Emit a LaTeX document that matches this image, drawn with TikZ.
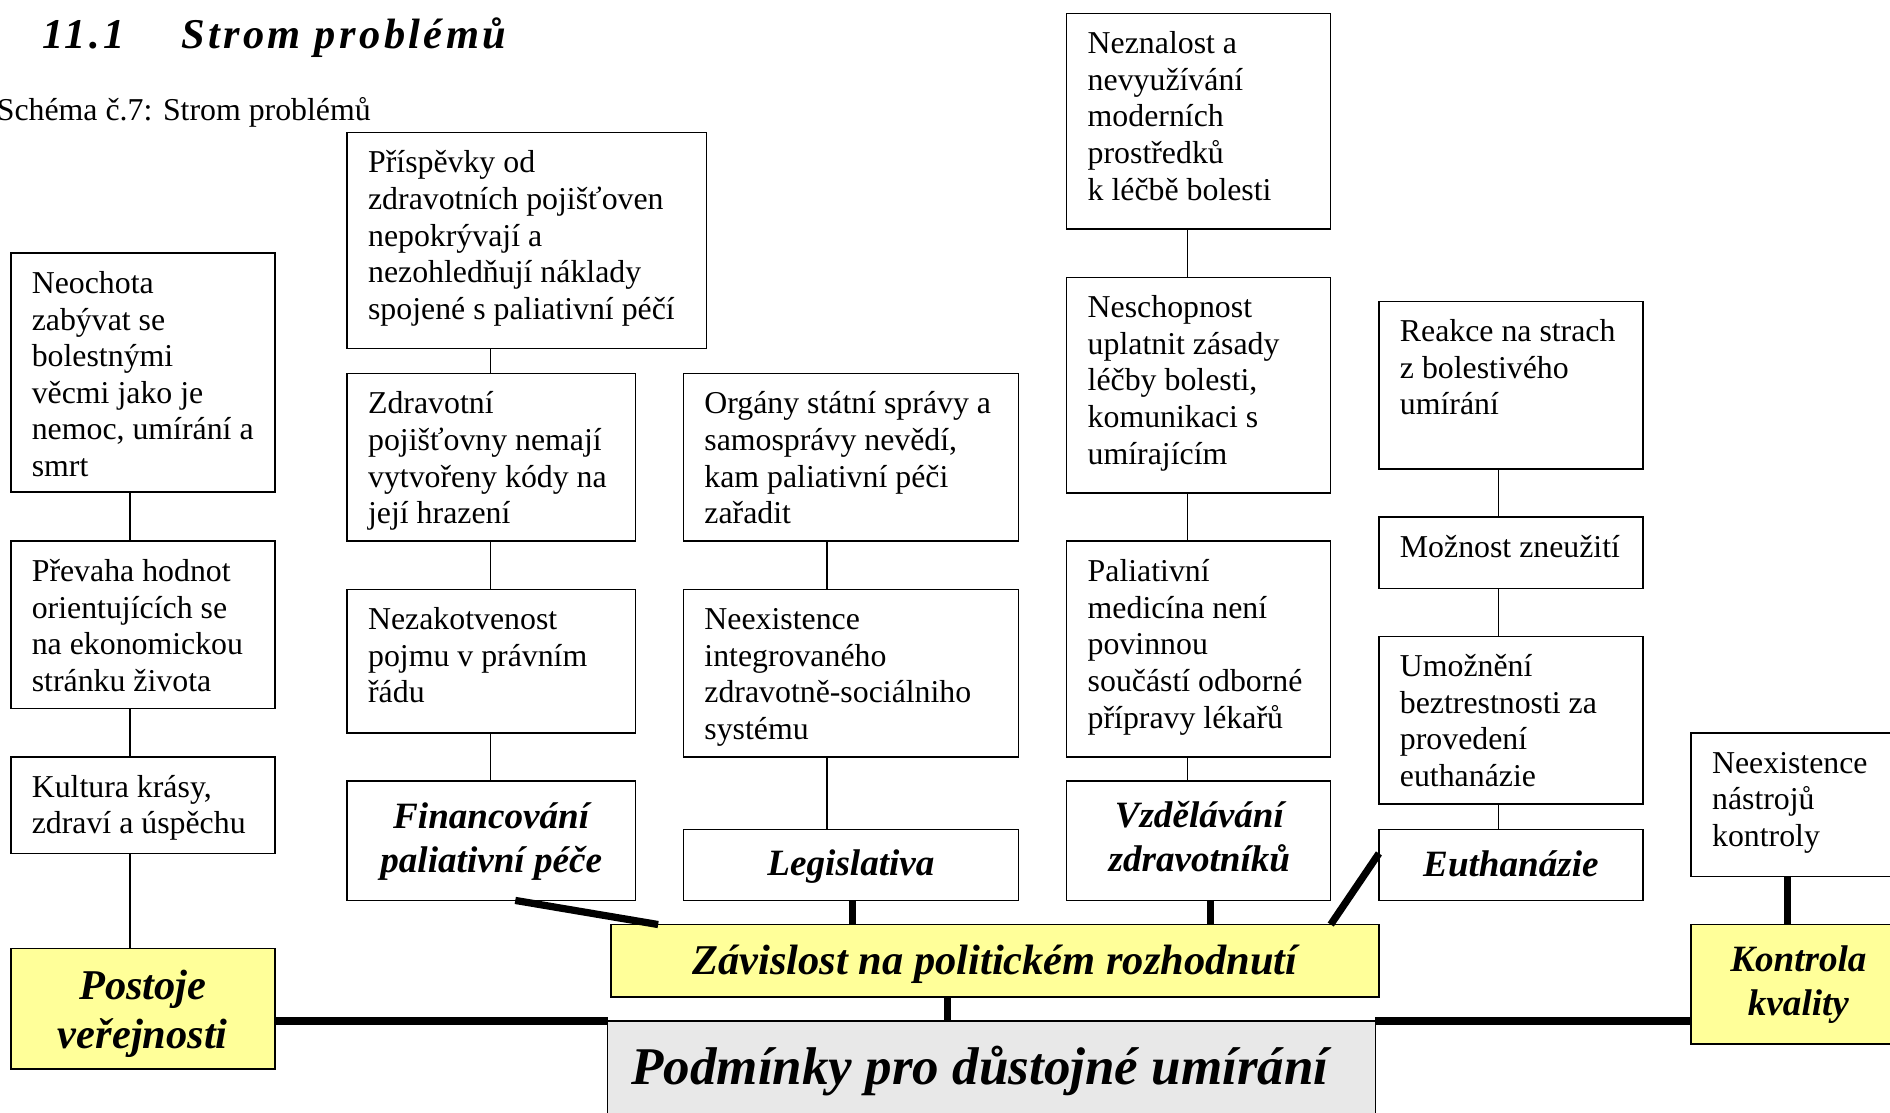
\documentclass[tikz,border=0pt]{standalone}
\usepackage{fontspec}
\setmainfont{Liberation Serif}
\usetikzlibrary{calc}

\definecolor{hiyellow}{HTML}{FFFF99}
\definecolor{rootgray}{HTML}{E8E8E8}

\tikzset{
  box/.style={draw=black, line width=0.6pt, fill=white, inner sep=0pt, outer sep=0pt},
  keybox/.style={box, fill=hiyellow},
  rootbox/.style={box, fill=rootgray},
  body/.style={anchor=north west, inner sep=0pt, align=left,
    font=\fontsize{13.2}{15.2}\selectfont},
  head/.style={inner sep=0pt, align=center,
    font=\fontsize{15.4}{18}\selectfont\bfseries\itshape},
  bighead/.style={inner sep=0pt, align=center,
    font=\fontsize{17.6}{20}\selectfont\bfseries\itshape},
  link/.style={line width=0.6pt},
  strong/.style={line width=3pt},
}

% \probbox{name}{style}{x1}{y1}{x2}{y2}: an empty framed box between two corners
\newcommand\probbox[6]{%
  \node[#2, minimum width={(#5-#3)*0.5pt}, minimum height={(#6-#4)*0.5pt}]
    (#1) at ({(#3+#5)/2},{(#4+#6)/2}) {};}
% \boxtext{name}{text}: left-aligned text set in the top part of a box;
% the rule fixes the first baseline 12pt below the top of the text node
\newcommand\boxtext[2]{%
  \node[body] (#1-t) at ($(#1.north west)+(17,9)$) {\rule{0pt}{12pt}#2};}

\begin{document}
\begin{tikzpicture}[x=0.5pt,y=-0.5pt]
\useasboundingbox (0,0) rectangle (1568,923);

% heading and caption
\node[anchor=base west, inner sep=0pt,
  font=\fontsize{17.6}{20}\selectfont\bfseries\itshape\addfontfeatures{LetterSpace=8}]
  (secnum) at (35,40) {11.1};
\node[anchor=base west, inner sep=0pt,
  font=\fontsize{17.6}{20}\selectfont\bfseries\itshape\addfontfeatures{LetterSpace=8}]
  (sectitle) at (150,40) {Strom problémů};
\node[anchor=base west, inner sep=0pt, font=\fontsize{13.2}{15.2}\selectfont]
  (caption) at (-3,100) {Schéma č.7: Strom problémů};

% column axes for the vertical links
\coordinate (ax1) at (108,0);
\coordinate (ax2) at (407,0);
\coordinate (ax3) at (686,0);
\coordinate (ax3b) at (707,0);
\coordinate (ax4) at (985,0);
\coordinate (ax4b) at (1004,0);
\coordinate (ax5) at (1243,0);
\coordinate (ax6) at (1483,0);
\coordinate (axr) at (786,0);
\coordinate (hy) at (0,847);

% root and main branches
\probbox{root}{rootbox}{504}{847}{1141}{960}
\node[inner sep=0pt, anchor=base, font=\fontsize{22}{26}\selectfont\bfseries\itshape]
  (root-t) at (813,900) {Podmínky pro důstojné umírání};

\probbox{pol}{keybox}{507}{767}{1144}{827}
\node[bighead] (pol-t) at (825.5,800) {Závislost na politickém rozhodnutí};

\probbox{pub}{keybox}{9}{787}{228}{887}
\node[bighead] (pub-t) at (118.5,841) {Postoje\\veřejnosti};

\probbox{qual}{keybox}{1403}{767}{1581}{866}
\node[head] (qual-t) at (1492,817) {Kontrola\\kvality};

% column 1
\probbox{c1a}{box}{9}{210}{228}{408}
\boxtext{c1a}{Neochota\\zabývat se\\bolestnými\\věcmi jako je\\nemoc, umírání a\\smrt}
\probbox{c1b}{box}{9}{449}{228}{588}
\boxtext{c1b}{Převaha hodnot\\orientujících se\\na ekonomickou\\stránku života}
\probbox{c1c}{box}{9}{628}{228}{708}
\boxtext{c1c}{Kultura krásy,\\zdraví a úspěchu}

% column 2
\probbox{c2a}{box}{288}{110}{586}{289}
\boxtext{c2a}{Příspěvky od\\zdravotních pojišťoven\\nepokrývají a\\nezohledňují náklady\\spojené s paliativní péčí}
\probbox{c2b}{box}{288}{310}{527}{449}
\boxtext{c2b}{Zdravotní\\pojišťovny nemají\\vytvořeny kódy na\\její hrazení}
\probbox{c2c}{box}{288}{489}{527}{608}
\boxtext{c2c}{Nezakotvenost\\pojmu v právním\\řádu}
\probbox{fin}{box}{288}{648}{527}{747}
\node[head] (fin-t) at (407.5,698) {Financování\\paliativní péče};

% column 3
\probbox{c3a}{box}{567}{310}{845}{449}
\boxtext{c3a}{Orgány státní správy a\\samosprávy nevědí,\\kam paliativní péči\\zařadit}
\probbox{c3b}{box}{567}{489}{845}{628}
\boxtext{c3b}{Neexistence\\integrovaného\\zdravotně-sociálniho\\systému}
\probbox{leg}{box}{567}{688}{845}{747}
\node[head] (leg-t) at (706,719) {Legislativa};

% column 4
\probbox{c4a}{box}{885}{11}{1104}{190}
\boxtext{c4a}{Neznalost a\\nevyužívání\\moderních\\prostředků\\k léčbě bolesti}
\probbox{c4b}{box}{885}{230}{1104}{409}
\boxtext{c4b}{Neschopnost\\uplatnit zásady\\léčby bolesti,\\komunikaci s\\umírajícím}
\probbox{c4c}{box}{885}{449}{1104}{628}
\boxtext{c4c}{Paliativní\\medicína není\\povinnou\\součástí odborné\\přípravy lékařů}
\probbox{edu}{box}{885}{648}{1104}{747}
\node[head] (edu-t) at (995,694) {Vzdělávání\\zdravotníků};

% column 5
\probbox{c5a}{box}{1144}{250}{1363}{389}
\boxtext{c5a}{Reakce na strach\\z bolestivého\\umírání}
\probbox{c5b}{box}{1144}{429}{1363}{488}
\boxtext{c5b}{Možnost zneužití}
\probbox{c5c}{box}{1144}{528}{1363}{667}
\boxtext{c5c}{Umožnění\\beztrestnosti za\\provedení\\euthanázie}
\probbox{eut}{box}{1144}{688}{1363}{747}
\node[head] (eut-t) at (1253.5,717) {Euthanázie};

% column 6
\probbox{c6a}{box}{1403}{608}{1581}{727}
\boxtext{c6a}{Neexistence\\nástrojů\\kontroly}

% thin links inside the columns
\draw[link] (c1a.south -| ax1) -- (c1b.north -| ax1);
\draw[link] (c1b.south -| ax1) -- (c1c.north -| ax1);
\draw[link] (c1c.south -| ax1) -- (pub.north -| ax1);
\draw[link] (c2a.south -| ax2) -- (c2b.north -| ax2);
\draw[link] (c2b.south -| ax2) -- (c2c.north -| ax2);
\draw[link] (c2c.south -| ax2) -- (fin.north -| ax2);
\draw[link] (c3a.south -| ax3) -- (c3b.north -| ax3);
\draw[link] (c3b.south -| ax3) -- (leg.north -| ax3);
\draw[link] (c4a.south -| ax4) -- (c4b.north -| ax4);
\draw[link] (c4b.south -| ax4) -- (c4c.north -| ax4);
\draw[link] (c4c.south -| ax4) -- (edu.north -| ax4);
\draw[link] (c5a.south -| ax5) -- (c5b.north -| ax5);
\draw[link] (c5b.south -| ax5) -- (c5c.north -| ax5);
\draw[link] (c5c.south -| ax5) -- (eut.north -| ax5);

% heavy links of the main branches
\draw[strong] ([xshift=10pt]fin.south) -- ([xshift=19.5pt]pol.north west);
\draw[strong] (leg.south -| ax3b) -- (pol.north -| ax3b);
\draw[strong] (edu.south -| ax4b) -- (pol.north -| ax4b);
\draw[strong] ([yshift=-10pt]eut.north west) -- ([xshift=-20pt]pol.north east);
\draw[strong] (pol.south -| axr) -- (root.north -| axr);
\draw[strong] (pub.east |- hy) -- (root.north west);
\draw[strong] (root.north east) -- (qual.west |- hy);
\draw[strong] (c6a.south -| ax6) -- (qual.north -| ax6);
\end{tikzpicture}
\end{document}
